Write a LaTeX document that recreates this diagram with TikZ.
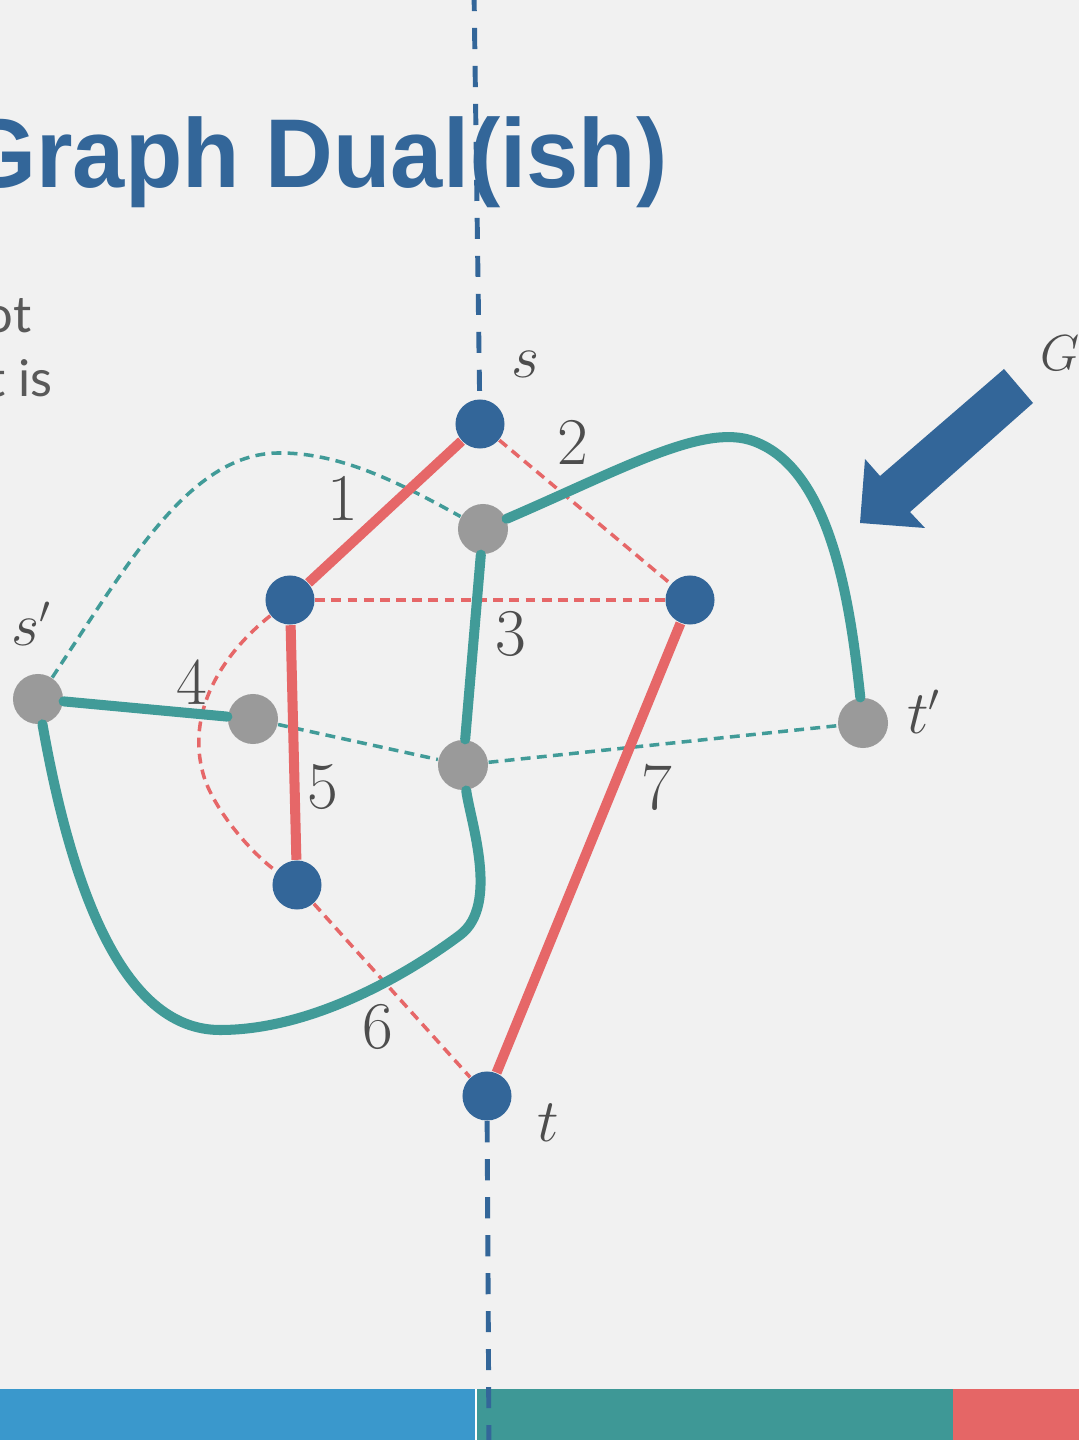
\documentclass[tikz,border=0pt]{standalone}
\usepackage{fontspec}
\newfontfamily\titlefont[FakeStretch=0.96]{Liberation Sans}
\newfontfamily\bodyfont{Lato}

\definecolor{bg}{HTML}{F1F1F1}
\definecolor{dualblue}{HTML}{336699}
\definecolor{primalred}{HTML}{E66768}
\definecolor{dualteal}{HTML}{419B98}
\definecolor{vgrey}{HTML}{9A9A9A}
\definecolor{inkgrey}{HTML}{4D4D4D}
\definecolor{bodygrey}{HTML}{595959}
\definecolor{barblue}{HTML}{3A98CC}
\definecolor{barteal}{HTML}{3E9896}
\definecolor{barred}{HTML}{E56666}

\tikzset{
  pnode/.style={circle, fill=dualblue, minimum size=0.49cm, inner sep=0pt},
  dnode/.style={circle, fill=vgrey, minimum size=0.5cm, inner sep=0pt},
  rededge/.style={primalred, line width=2.85pt},
  reddash/.style={primalred, line width=1pt, dash pattern=on 2.8pt off 1.8pt},
  tealedge/.style={dualteal, line width=2.85pt, line cap=round},
  tealdash/.style={dualteal, line width=1pt, dash pattern=on 2.8pt off 1.8pt},
  cutline/.style={dualblue, line width=1.4pt, dash pattern=on 6pt off 4.8pt},
  num/.style={text=inkgrey, font=\fontsize{19}{19}\selectfont, inner sep=0pt},
  vlabel/.style={text=inkgrey, font=\fontsize{16}{16}\selectfont, inner sep=0pt},
  bodytext/.style={inner sep=0pt, text=bodygrey, font=\bodyfont\fontsize{14.4}{18}\selectfont},
}

\begin{document}
\begin{tikzpicture}[x=0.01cm, y=-0.01cm]
    \clip (0,0) rectangle (1079,1440);
    \fill[bg] (0,0) rectangle (1079,1440);

    % bottom bar
    \fill[barblue] (0,1389) rectangle (475,1440);
    \fill[white] (475,1389) rectangle (477,1440);
    \fill[barteal] (477,1389) rectangle (953,1440);
    \fill[barred] (953,1389) rectangle (1079,1440);

    % title and cut-off text
    \node[anchor=base east, inner sep=0pt, text=dualblue,
          font=\titlefont\bfseries\fontsize{27.8}{30}\selectfont] (title) at (668,188) {Graph Dual(ish)};
    \node[bodytext, anchor=base east] (lineA) at (32,333) {ot};
    \node[bodytext, anchor=base east] (lineB) at (53,397) {t\hspace{0.24em}is};

    % primal vertices
    \node[pnode] (s) at (480,424) {};
    \node[pnode] (b) at (290,600) {};
    \node[pnode] (c) at (690,600) {};
    \node[pnode] (f) at (297,885) {};
    \node[pnode] (t) at (487,1096) {};
    % dual vertices
    \node[dnode] (a) at (483,529) {};
    \node[dnode] (sp) at (38,699) {};
    \node[dnode] (d) at (253,719) {};
    \node[dnode] (e) at (463,765) {};
    \node[dnode] (tp) at (863,723) {};

    \coordinate (cuttop) at (474,-10);
    \coordinate (cutbot) at (489,1450);

    % dashed edges
    \draw[reddash] (s) -- (c);
    \draw[reddash] (b) -- (c);
    \draw[reddash] (b) .. controls (215,660) and (185,720) .. (205,780)
        .. controls (220,820) and (260,860) .. (f);
    \draw[reddash] (f) -- (t);
    \draw[tealdash] (sp) .. controls (130,560) and (190,455) .. (277,453)
        .. controls (340,452) and (400,483) .. (a);
    \draw[tealdash] (d) -- (e);
    \draw[tealdash] (e) -- (tp);

    % solid edges
    \draw[rededge] (s) -- (b);
    \draw[rededge] (b) -- (f);
    \draw[rededge] (c) -- (t);
    \draw[tealedge] (a) -- (e);
    \draw[tealedge] (sp) -- (d);
    \draw[tealedge] (a) .. controls (620,470) and (700,425) .. (750,440)
        .. controls (830,465) and (850,600) .. (tp);
    \draw[tealedge] (sp) .. controls (70,880) and (120,1030) .. (220,1030)
        .. controls (320,1030) and (420,965) .. (460,935)
        .. controls (500,905) and (470,820) .. (e);

    % the s-t cut
    \draw[cutline] (cuttop) -- (s);
    \draw[cutline] (t) -- (cutbot);

    % labels
    \node[vlabel] (slab) at (526,364) {$s$};
    \node[vlabel] (tlab) at (548,1123) {$t$};
    \node[vlabel] (splab) at (32,624) {$s'$};
    \node[vlabel] (tplab) at (924,712) {$t'$};
    \node[vlabel, anchor=west, font=\fontsize{14.5}{15}\selectfont] (glab) at (1040,352) {$G'$};
    \node[num] (n1) at (343,498) {1};
    \node[num] (n2) at (573,442) {2};
    \node[num] (n3) at (511,634) {3};
    \node[num] (n4) at (192,682) {4};
    \node[num] (n5) at (323,787) {5};
    \node[num] (n6) at (378,1027) {6};
    \node[num] (n7) at (657,787) {7};

    % pointer to G'
    \fill[dualblue] (1004,369) -- (880,476) -- (865,459) -- (860,523)
        -- (925,528) -- (910,512) -- (1033,403) -- cycle;
\end{tikzpicture}
\end{document}
